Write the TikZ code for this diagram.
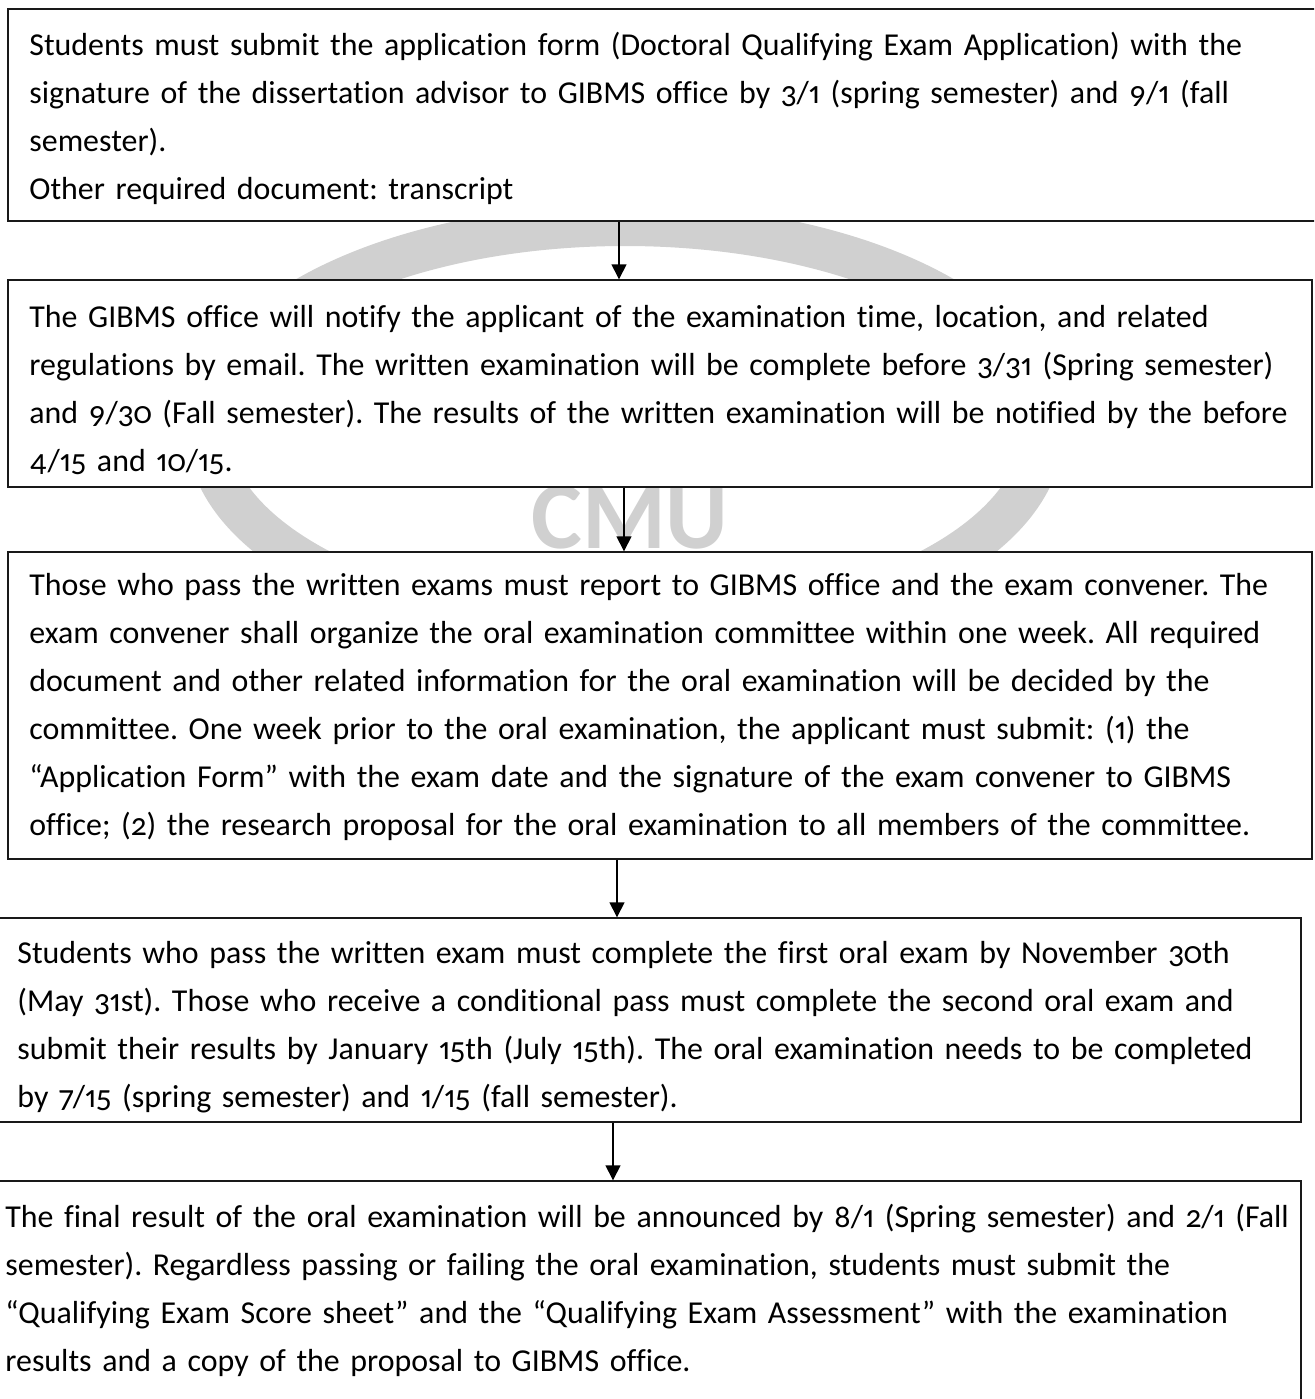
\documentclass[tikz,border=0pt]{standalone}
\usepackage{fontspec}
\setmainfont{Carlito}[Numbers={OldStyle,Proportional}, WordSpace=0.88, Ligatures=NoCommon]
\usetikzlibrary{arrows.meta}
\definecolor{wmgray}{RGB}{208,208,208}
\definecolor{linec}{RGB}{25,25,25}
\tikzset{
  flowbox/.style={draw=linec, line width=0.7pt, fill=white, rectangle, inner sep=0pt},
  flowtext/.style={anchor=base west, inner sep=0pt, text width=680pt, align=left,
    font=\frenchspacing\fontsize{15.95pt}{24pt}\selectfont, text=black},
  flowarrow/.style={draw=black, line width=0.7pt, -{Triangle[length=7.5pt,width=7.5pt]}},
  wmring/.style={draw=wmgray, line width=21pt},
  wmtext/.style={text=wmgray, font=\fontsize{48pt}{48pt}\selectfont\bfseries, inner sep=0pt, anchor=base}
}
\begin{document}
\begin{tikzpicture}[x=0.5pt, y=-0.5pt]
\useasboundingbox (0,0) rectangle (1314,1399);
\clip (0,0) rectangle (1314,1399);
% watermark
\draw[wmring] (625,430) ellipse [x radius=208.75pt, y radius=102.5pt];
\node[wmtext] (wm) at (630,548) {CMU};
% boxes
\node[flowbox, minimum width=666pt, minimum height=106pt] (b1) at (674,115) {};
\node[flowbox, minimum width=652pt, minimum height=103.5pt] (b2) at (660,383.5) {};
\node[flowbox, minimum width=652pt, minimum height=153.5pt] (b3) at (660,705.5) {};
\node[flowbox, minimum width=660.5pt, minimum height=102pt] (b4) at (640.5,1020) {};
\node[flowbox, minimum width=660.5pt, minimum height=119.5pt] (b5) at (640.5,1300.5) {};
% texts
\node[flowtext] (t1) at (29,55) {Students must submit the application form (Doctoral Qualifying Exam Application) with the\\
signature of the dissertation advisor to GIBMS office by 3/1 (spring semester) and 9/1 (fall\\
semester).\\
Other required document: transcript};
\node[flowtext] (t2) at (29,327) {The GIBMS office will notify the applicant of the examination time, location, and related\\
regulations by email. The written examination will be complete before 3/31 (Spring semester)\\
and 9/30 (Fall semester). The results of the written examination will be notified by the before\\
4/15 and 10/15.};
\node[flowtext] (t3) at (29,595) {Those who pass the written exams must report to GIBMS office and the exam convener. The\\
exam convener shall organize the oral examination committee within one week. All required\\
document and other related information for the oral examination will be decided by the\\
committee. One week prior to the oral examination, the applicant must submit: (1) the\\
“Application Form” with the exam date and the signature of the exam convener to GIBMS\\
office; (2) the research proposal for the oral examination to all members of the committee.};
\begin{scope}
\clip (0,900) rectangle (1314,1112);
\node[flowtext] (t4) at (17,963) {Students who pass the written exam must complete the first oral exam by November 30th\\
(May 31st). Those who receive a conditional pass must complete the second oral exam and\\
submit their results by January 15th (July 15th). The oral examination needs to be completed\\
by 7/15 (spring semester) and 1/15 (fall semester).};
\end{scope}
\node[flowtext] (t5) at (5,1227) {The final result of the oral examination will be announced by 8/1 (Spring semester) and 2/1 (Fall\\
semester). Regardless passing or failing the oral examination, students must submit the\\
“Qualifying Exam Score sheet” and the “Qualifying Exam Assessment” with the examination\\
results and a copy of the proposal to GIBMS office.};
% arrows
\coordinate (x1) at (619,0);
\coordinate (x2) at (624,0);
\coordinate (x3) at (617,0);
\coordinate (x4) at (613,0);
\draw[flowarrow] (b1.south -| x1) -- (b2.north -| x1);
\draw[flowarrow] (b2.south -| x2) -- (b3.north -| x2);
\draw[flowarrow] (b3.south -| x3) -- (b4.north -| x3);
\draw[flowarrow] (b4.south -| x4) -- (b5.north -| x4);
\end{tikzpicture}
\end{document}
